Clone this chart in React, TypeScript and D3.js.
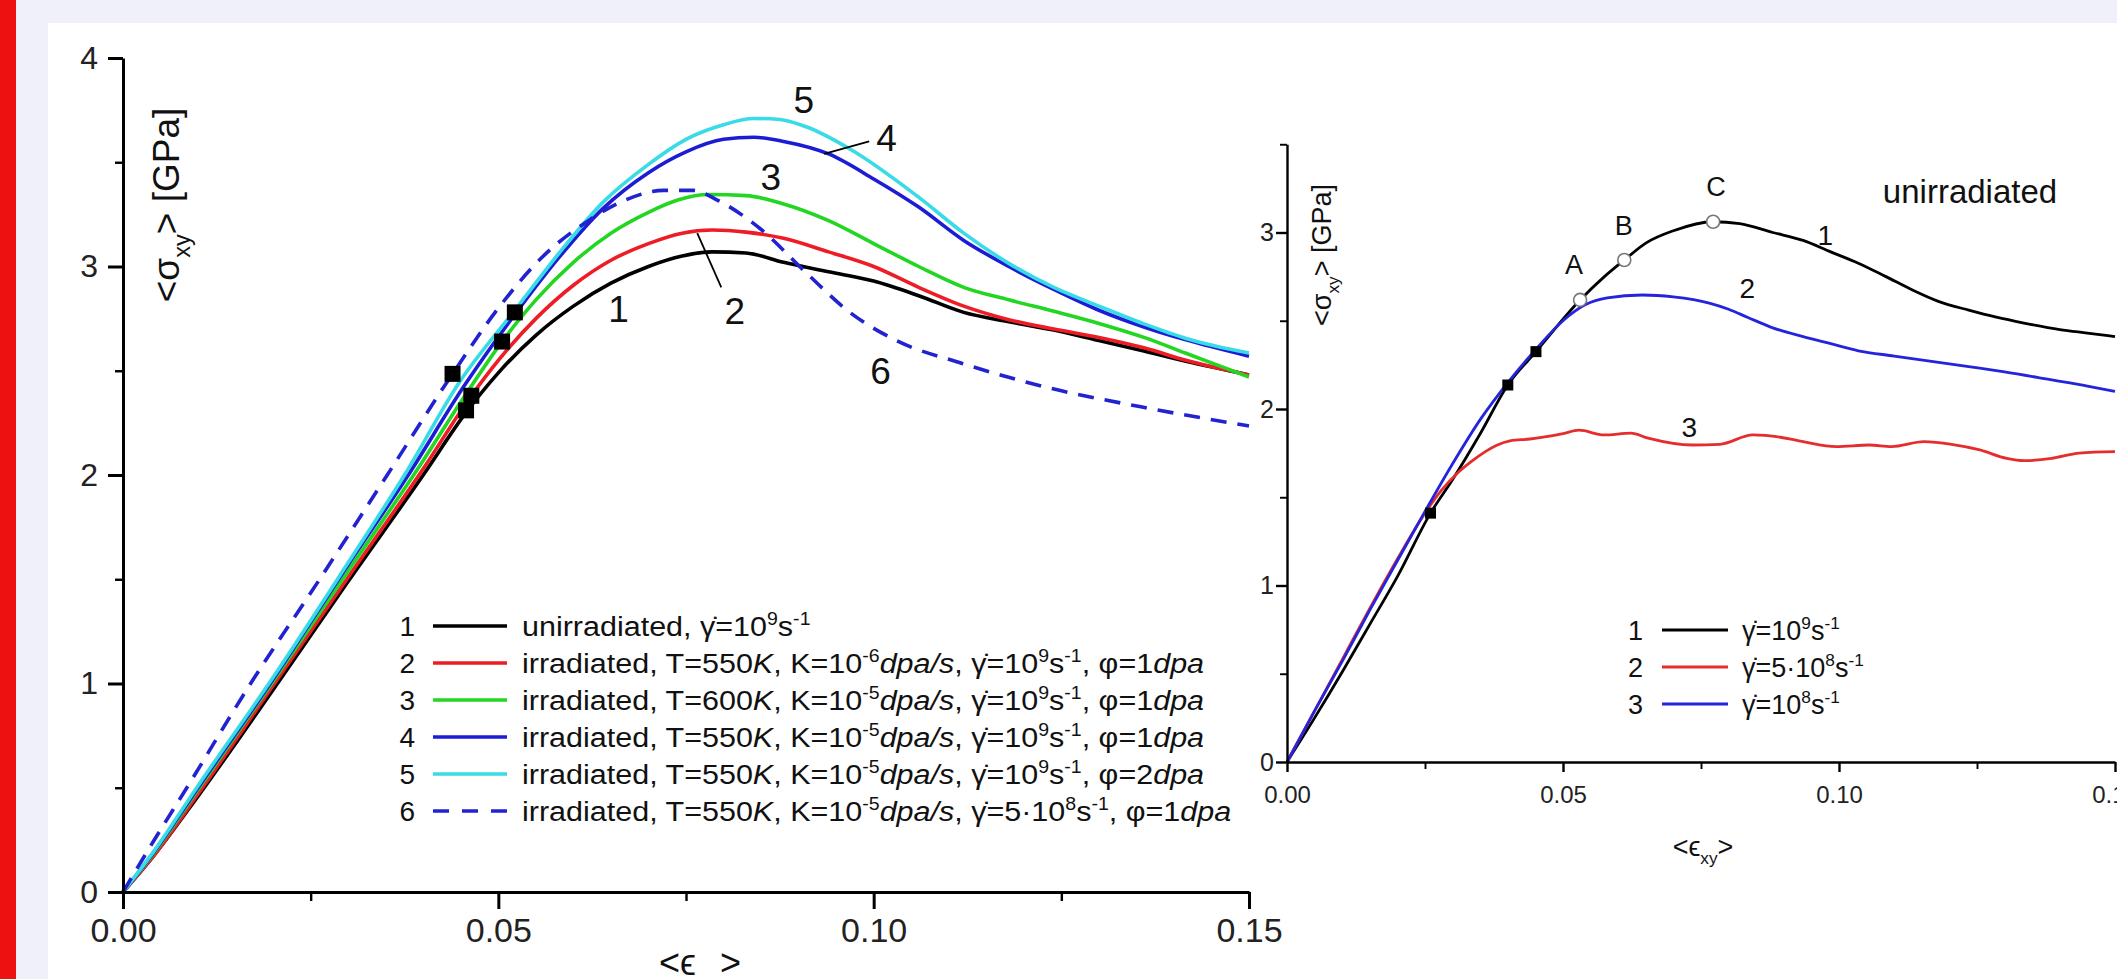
import React, { useEffect, useRef } from 'react';
import * as d3 from 'd3';

type Pt = [number, number];

// axis ticks
const strainTicks = [0, 0.05, 0.1, 0.15];
const strainMinor = [0.025, 0.075, 0.125];
const stressTicksL = [0, 1, 2, 3, 4];
const stressMinorL = [0.5, 1.5, 2.5, 3.5];
const stressTicksR = [0, 1, 2, 3];
const stressMinorR = [0.5, 1.5, 2.5, 3.5];

// left panel: <eps_xy> vs <sigma_xy> [GPa]
const unirr: Pt[] = [[0,0],[0.004,0.17],[0.010,0.46],[0.020,0.97],[0.030,1.49],[0.040,2.0],[0.0457,2.30],[0.050,2.49],[0.055,2.67],[0.060,2.81],[0.065,2.92],[0.070,3.0],[0.0745,3.05],[0.0785,3.07],[0.083,3.065],[0.088,3.02],[0.094,2.975],[0.100,2.93],[0.106,2.86],[0.112,2.78],[0.118,2.735],[0.124,2.695],[0.130,2.645],[0.136,2.595],[0.1416,2.545],[0.150,2.48]];
const irr550k6: Pt[] = [[0,0],[0.004,0.17],[0.010,0.47],[0.020,0.99],[0.030,1.51],[0.040,2.03],[0.0464,2.38],[0.050,2.55],[0.055,2.75],[0.060,2.91],[0.065,3.03],[0.070,3.11],[0.0745,3.16],[0.0785,3.175],[0.083,3.165],[0.088,3.135],[0.094,3.07],[0.100,3.0],[0.106,2.90],[0.112,2.81],[0.118,2.745],[0.124,2.70],[0.130,2.66],[0.136,2.61],[0.1416,2.55],[0.150,2.48]];
const irr600k5: Pt[] = [[0,0],[0.004,0.18],[0.010,0.49],[0.020,1.01],[0.030,1.54],[0.040,2.07],[0.045,2.35],[0.0505,2.64],[0.055,2.84],[0.060,3.02],[0.065,3.16],[0.070,3.26],[0.074,3.32],[0.078,3.345],[0.083,3.34],[0.088,3.30],[0.094,3.22],[0.100,3.11],[0.106,3.0],[0.112,2.90],[0.118,2.84],[0.124,2.785],[0.130,2.727],[0.136,2.66],[0.1416,2.584],[0.150,2.47]];
const irr550k5: Pt[] = [[0,0],[0.004,0.185],[0.010,0.50],[0.020,1.02],[0.030,1.57],[0.038,2.0],[0.0455,2.43],[0.0522,2.77],[0.058,3.04],[0.064,3.28],[0.070,3.45],[0.075,3.55],[0.080,3.61],[0.084,3.62],[0.088,3.60],[0.094,3.54],[0.100,3.42],[0.106,3.285],[0.112,3.125],[0.118,3.0],[0.124,2.89],[0.130,2.79],[0.136,2.71],[0.1416,2.648],[0.150,2.57]];
const irr550k5d2: Pt[] = [[0,0],[0.004,0.19],[0.010,0.51],[0.020,1.03],[0.030,1.58],[0.0375,2.0],[0.0449,2.45],[0.0522,2.79],[0.058,3.06],[0.064,3.31],[0.070,3.49],[0.075,3.61],[0.080,3.68],[0.084,3.71],[0.0875,3.705],[0.091,3.67],[0.097,3.56],[0.1059,3.335],[0.112,3.16],[0.118,3.015],[0.124,2.90],[0.130,2.81],[0.136,2.725],[0.1416,2.655],[0.150,2.585]];
const irr550slow: Pt[] = [[0,0],[0.004,0.24],[0.0085,0.5],[0.0170,1.0],[0.0262,1.5],[0.0352,2.0],[0.0439,2.485],[0.050,2.80],[0.056,3.05],[0.062,3.22],[0.067,3.32],[0.072,3.365],[0.076,3.365],[0.0791,3.32],[0.0851,3.175],[0.091,2.97],[0.097,2.775],[0.1029,2.647],[0.1118,2.535],[0.1237,2.415],[0.1356,2.327],[0.150,2.235]];
const yieldPtsL: Pt[] = [[0.0439,2.485],[0.0464,2.38],[0.0457,2.31],[0.0505,2.64],[0.0522,2.78]];

// right panel: unirradiated, three strain rates
const rate1e9: Pt[] = [[0,0],[0.005,0.25],[0.010,0.51],[0.015,0.78],[0.020,1.05],[0.026,1.41],[0.030,1.60],[0.035,1.86],[0.040,2.136],[0.0451,2.325],[0.0531,2.618],[0.0575,2.75],[0.0611,2.844],[0.065,2.94],[0.070,3.01],[0.0772,3.061],[0.082,3.05],[0.088,3.0],[0.0935,2.955],[0.0985,2.89],[0.1035,2.826],[0.1085,2.75],[0.1134,2.673],[0.118,2.61],[0.1235,2.56],[0.1285,2.52],[0.1335,2.487],[0.140,2.45],[0.145,2.43],[0.150,2.41]];
const rate5e8: Pt[] = [[0,0],[0.005,0.29],[0.010,0.58],[0.015,0.87],[0.020,1.15],[0.025,1.41],[0.028,1.54],[0.031,1.64],[0.0333,1.70],[0.036,1.76],[0.038,1.795],[0.0404,1.82],[0.044,1.83],[0.0464,1.84],[0.050,1.86],[0.0529,1.88],[0.0574,1.853],[0.0623,1.863],[0.0654,1.835],[0.0734,1.796],[0.0784,1.80],[0.0844,1.853],[0.0894,1.84],[0.0935,1.815],[0.0995,1.787],[0.1055,1.796],[0.1095,1.787],[0.1154,1.815],[0.1204,1.80],[0.1255,1.768],[0.1304,1.72],[0.1335,1.707],[0.1385,1.72],[0.1435,1.75],[0.150,1.758]];
const rate1e8: Pt[] = [[0,0],[0.005,0.29],[0.010,0.57],[0.015,0.86],[0.020,1.14],[0.025,1.42],[0.030,1.69],[0.035,1.94],[0.040,2.15],[0.045,2.335],[0.050,2.50],[0.054,2.59],[0.058,2.63],[0.0644,2.646],[0.070,2.635],[0.0765,2.60],[0.080,2.565],[0.0834,2.52],[0.088,2.46],[0.0935,2.41],[0.0985,2.37],[0.1035,2.33],[0.110,2.30],[0.1235,2.24],[0.130,2.21],[0.1385,2.165],[0.145,2.13],[0.150,2.10]];
const yieldPtsR: Pt[] = [[0.026,1.41],[0.040,2.136],[0.0451,2.325]];
const stagePts: Pt[] = [[0.0531,2.618],[0.0611,2.844],[0.0772,3.061]];
const stageNames = ['A', 'B', 'C'];

const G = '\u03B3\u0307';
// '^' superscript, '_' subscript, '~' italic
const legendL = [
  ['unirradiated, ' + G + '=10', '^9', 's', '^-1'],
  ['irradiated, T=550', '~K', ', K=10', '^-6', '~dpa/s', ', ' + G + '=10', '^9', 's', '^-1', ', \u03C6=1', '~dpa'],
  ['irradiated, T=600', '~K', ', K=10', '^-5', '~dpa/s', ', ' + G + '=10', '^9', 's', '^-1', ', \u03C6=1', '~dpa'],
  ['irradiated, T=550', '~K', ', K=10', '^-5', '~dpa/s', ', ' + G + '=10', '^9', 's', '^-1', ', \u03C6=1', '~dpa'],
  ['irradiated, T=550', '~K', ', K=10', '^-5', '~dpa/s', ', ' + G + '=10', '^9', 's', '^-1', ', \u03C6=2', '~dpa'],
  ['irradiated, T=550', '~K', ', K=10', '^-5', '~dpa/s', ', ' + G + '=5\u00B710', '^8', 's', '^-1', ', \u03C6=1', '~dpa'],
];
const legendR = [
  [G + '=10', '^9', 's', '^-1'],
  [G + '=5\u00B710', '^8', 's', '^-1'],
  [G + '=10', '^8', 's', '^-1'],
];

const seriesL = [
  { n: '1', data: unirr, color: '#000000', dash: null },
  { n: '2', data: irr550k6, color: '#ee1c24', dash: null },
  { n: '3', data: irr600k5, color: '#22d622', dash: null },
  { n: '4', data: irr550k5, color: '#1c1cd4', dash: null },
  { n: '5', data: irr550k5d2, color: '#38dbe6', dash: null },
  { n: '6', data: irr550slow, color: '#2222d0', dash: '16 11' },
];
const seriesR = [
  { n: '1', data: rate1e9, color: '#000000' },
  { n: '2', data: rate5e8, color: '#e52d2d' },
  { n: '3', data: rate1e8, color: '#2424dc' },
];

// curve number labels [x, y] in data units
const curveLabelsL: { t: string; p: Pt }[] = [
  { t: '1', p: [0.066, 2.8] },
  { t: '2', p: [0.0815, 2.79] },
  { t: '3', p: [0.0863, 3.43] },
  { t: '4', p: [0.1017, 3.62] },
  { t: '5', p: [0.0907, 3.8] },
  { t: '6', p: [0.1009, 2.5] },
];
const leadersL: Pt[][] = [
  [[0.0765, 3.16], [0.0797, 2.9]],
  [[0.0934, 3.54], [0.0994, 3.6]],
];
const curveLabelsR: { t: string; p: Pt }[] = [
  { t: '1', p: [0.0975, 2.985] },
  { t: '2', p: [0.0834, 2.685] },
  { t: '3', p: [0.0729, 1.9] },
];
const stageLabelPos: Pt[] = [[0.052, 2.82], [0.061, 3.04], [0.0777, 3.26]];

const FONT = '"Liberation Sans", Arial, "DejaVu Sans", sans-serif';

function rich(sel: any, parts: string[], fs: number) {
  let shift = 0;
  parts.forEach((p) => {
    let kind = '';
    let t = p;
    if (p[0] === '^' || p[0] === '_' || p[0] === '~') { kind = p[0]; t = p.slice(1); }
    const target = kind === '^' ? -0.4 * fs : kind === '_' ? 0.3 * fs : 0;
    const ts = sel.append('tspan').text(t);
    if (target !== shift) { ts.attr('dy', target - shift); shift = target; }
    if (kind === '^' || kind === '_') ts.attr('font-size', fs * 0.64);
    if (kind === '~') ts.attr('font-style', 'italic');
  });
}

export default function App() {
  const ref = useRef<SVGSVGElement>(null);

  useEffect(() => {
    const svg = d3.select(ref.current);
    svg.selectAll('*').remove();

    // page background
    svg.append('rect').attr('width', 2117).attr('height', 979).attr('fill', '#eff0fa');
    svg.append('rect').attr('x', 48).attr('y', 23).attr('width', 2069).attr('height', 956).attr('fill', '#ffffff');
    svg.append('rect').attr('width', 16).attr('height', 979).attr('fill', '#ee1111');

    const drawAxes = (g: any, x: any, y: any, o: any) => {
      const xa = g.append('g').attr('transform', `translate(0,${y(0)})`)
        .call(d3.axisBottom(x).tickValues(strainTicks).tickFormat(d3.format('.2f')).tickSize(o.xTick).tickSizeOuter(0).tickPadding(o.xPad));
      xa.select('.domain').attr('stroke-width', o.sw);
      xa.selectAll('line').attr('stroke-width', o.sw);
      xa.selectAll('text').attr('font-size', o.xFs).attr('font-family', FONT).attr('fill', '#222');
      const xm = g.append('g').attr('transform', `translate(0,${y(0)})`)
        .call(d3.axisBottom(x).tickValues(strainMinor).tickFormat(() => '').tickSize(o.xMinor).tickSizeOuter(0));
      xm.select('.domain').remove();
      xm.selectAll('line').attr('stroke-width', o.sw * 0.8);

      const ya = g.append('g').attr('transform', `translate(${x(0)},0)`)
        .call(d3.axisLeft(y).tickValues(o.yTicks).tickFormat(d3.format('d')).tickSize(o.yTick).tickSizeOuter(0).tickPadding(o.yPad));
      ya.select('.domain').attr('stroke-width', o.sw);
      ya.selectAll('line').attr('stroke-width', o.sw);
      ya.selectAll('text').attr('font-size', o.yFs).attr('font-family', FONT).attr('fill', '#222');
      const ym = g.append('g').attr('transform', `translate(${x(0)},0)`)
        .call(d3.axisLeft(y).tickValues(o.yMinor).tickFormat(() => '').tickSize(o.yMinorLen).tickSizeOuter(0));
      ym.select('.domain').remove();
      ym.selectAll('line').attr('stroke-width', o.sw * 0.8);
    };

    // ---------- left panel ----------
    const xL = d3.scaleLinear().domain([0, 0.15]).range([123, 1249]);
    const yL = d3.scaleLinear().domain([0, 4]).range([892, 58]);
    const gL = svg.append('g');
    const lineL = d3.line<Pt>().x((d) => xL(d[0])).y((d) => yL(d[1])).curve(d3.curveMonotoneX);

    seriesL.forEach((s) => {
      gL.append('path').attr('d', lineL(s.data)).attr('fill', 'none')
        .attr('stroke', s.color).attr('stroke-width', 3.6)
        .attr('stroke-dasharray', s.dash);
    });

    gL.selectAll('rect.yl').data(yieldPtsL).enter().append('rect')
      .attr('x', (d) => xL(d[0]) - 8).attr('y', (d) => yL(d[1]) - 8)
      .attr('width', 16).attr('height', 16).attr('fill', '#000');

    drawAxes(gL, xL, yL, { xTick: 17, xMinor: 9, xPad: 9, xFs: 34, yTicks: stressTicksL, yMinor: stressMinorL, yTick: 15, yMinorLen: 8, yPad: 10, yFs: 32, sw: 3 });

    leadersL.forEach((l) => {
      gL.append('line').attr('x1', xL(l[0][0])).attr('y1', yL(l[0][1])).attr('x2', xL(l[1][0])).attr('y2', yL(l[1][1]))
        .attr('stroke', '#000').attr('stroke-width', 1.8);
    });
    curveLabelsL.forEach((c) => {
      gL.append('text').attr('x', xL(c.p[0])).attr('y', yL(c.p[1])).attr('dy', '0.36em')
        .attr('text-anchor', 'middle').attr('font-size', 37).attr('font-family', FONT).attr('fill', '#111').text(c.t);
    });

    // axis titles
    const ytL = gL.append('text').attr('transform', 'translate(179,205) rotate(-90)')
      .attr('text-anchor', 'middle').attr('font-size', 37).attr('font-family', FONT).attr('fill', '#111');
    rich(ytL, ['<\u03C3', '_xy', '> [GPa]'], 37);
    // bottom title sits at the lower edge, its subscript falls below the frame as in the source
    const xtL = gL.append('text').attr('x', 659).attr('y', 975)
      .attr('font-size', 36).attr('font-family', FONT).attr('fill', '#111');
    xtL.append('tspan').text('<\u03F5');
    xtL.append('tspan').attr('dy', 26).attr('font-size', 24).text('xy');
    xtL.append('tspan').attr('dy', -26).text('>');

    // legend
    const legL = gL.append('g').attr('font-family', FONT).attr('fill', '#111');
    legendL.forEach((parts, i) => {
      const yy = 626 + i * 37;
      const s = seriesL[i];
      legL.append('text').attr('x', 415).attr('y', yy).attr('dy', '0.36em').attr('text-anchor', 'end').attr('font-size', 28).text(s.n);
      legL.append('line').attr('x1', 433).attr('x2', 507).attr('y1', yy).attr('y2', yy)
        .attr('stroke', s.color).attr('stroke-width', 3.6).attr('stroke-dasharray', s.dash ? '16 13' : null);
      const t = legL.append('text').attr('transform', `translate(522,${yy}) scale(1.09,1)`).attr('dy', '0.36em').attr('font-size', 28);
      rich(t, parts, 28);
    });

    // ---------- right panel ----------
    const xR = d3.scaleLinear().domain([0, 0.15]).range([1287, 2115]);
    const yR = d3.scaleLinear().domain([0, 3.5]).range([762, 144.25]);
    const gR = svg.append('g');
    const lineR = d3.line<Pt>().x((d) => xR(d[0])).y((d) => yR(d[1])).curve(d3.curveMonotoneX);

    seriesR.forEach((s) => {
      gR.append('path').attr('d', lineR(s.data)).attr('fill', 'none').attr('stroke', s.color).attr('stroke-width', 2.8);
    });
    gR.selectAll('rect.yr').data(yieldPtsR).enter().append('rect')
      .attr('x', (d) => xR(d[0]) - 5.5).attr('y', (d) => yR(d[1]) - 5.5)
      .attr('width', 11).attr('height', 11).attr('fill', '#000');
    gR.selectAll('circle').data(stagePts).enter().append('circle')
      .attr('cx', (d) => xR(d[0])).attr('cy', (d) => yR(d[1])).attr('r', 6.5)
      .attr('fill', '#fff').attr('stroke', '#777').attr('stroke-width', 1.6);

    drawAxes(gR, xR, yR, { xTick: 10, xMinor: 7, xPad: 14, xFs: 24, yTicks: stressTicksR, yMinor: stressMinorR, yTick: 11, yMinorLen: 7, yPad: 2, yFs: 25, sw: 2.4 });

    stageLabelPos.forEach((p, i) => {
      gR.append('text').attr('x', xR(p[0])).attr('y', yR(p[1])).attr('dy', '0.36em').attr('text-anchor', 'middle')
        .attr('font-size', 27).attr('font-family', FONT).attr('fill', '#111').text(stageNames[i]);
    });
    curveLabelsR.forEach((c) => {
      gR.append('text').attr('x', xR(c.p[0])).attr('y', yR(c.p[1])).attr('dy', '0.36em').attr('text-anchor', 'middle')
        .attr('font-size', 28).attr('font-family', FONT).attr('fill', '#111').text(c.t);
    });
    gR.append('text').attr('x', 1970).attr('y', 203).attr('text-anchor', 'middle')
      .attr('font-size', 33).attr('font-family', FONT).attr('fill', '#111').text('unirradiated');

    const ytR = gR.append('text').attr('transform', 'translate(1331,255) rotate(-90)')
      .attr('text-anchor', 'middle').attr('font-size', 27).attr('font-family', FONT).attr('fill', '#111');
    rich(ytR, ['<\u03C3', '_xy', '> [GPa]'], 27);
    const xtR = gR.append('text').attr('x', 1703).attr('y', 856).attr('text-anchor', 'middle')
      .attr('font-size', 27).attr('font-family', FONT).attr('fill', '#111');
    rich(xtR, ['<\u03F5', '_xy', '>'], 27);

    const legR = gR.append('g').attr('font-family', FONT).attr('fill', '#111');
    legendR.forEach((parts, i) => {
      const yy = 630 + i * 37;
      const s = seriesR[i];
      legR.append('text').attr('x', 1643).attr('y', yy).attr('dy', '0.36em').attr('text-anchor', 'end').attr('font-size', 27).text(s.n);
      legR.append('line').attr('x1', 1662).attr('x2', 1728).attr('y1', yy).attr('y2', yy)
        .attr('stroke', s.color).attr('stroke-width', 2.8);
      const t = legR.append('text').attr('x', 1742).attr('y', yy).attr('dy', '0.36em').attr('font-size', 27);
      rich(t, parts, 27);
    });

    return () => {
      svg.selectAll('*').remove();
    };
  }, []);

  return (
    <svg ref={ref} width={2117} height={979} style={{ position: 'absolute', left: 0, top: 0, display: 'block' }} />
  );
}
